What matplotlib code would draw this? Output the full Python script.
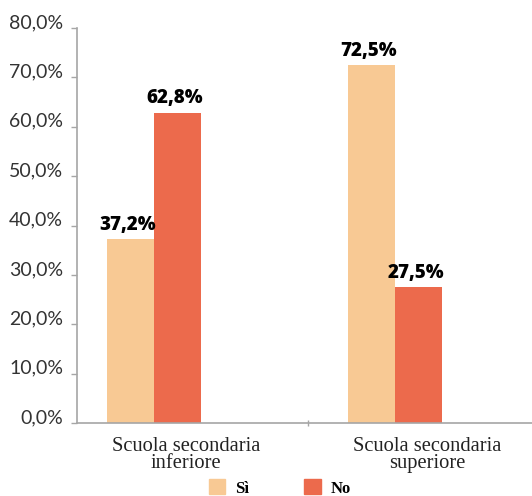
import matplotlib
matplotlib.use("Agg")
import matplotlib.pyplot as plt
import numpy as np
from matplotlib.patches import Patch

categories = ["Scuola secondaria\ninferiore", "Scuola secondaria\nsuperiore"]
series_names = ["Sì", "No"]
si_values = [37.2, 72.5]
no_values = [62.8, 27.5]
yticks = [0, 10, 20, 30, 40, 50, 60, 70, 80]
ytick_labels = ["0,0%", "10,0%", "20,0%", "30,0%", "40,0%", "50,0%", "60,0%", "70,0%", "80,0%"]

c_si = "#F8C994"
c_no = "#EC6A4C"
axis_col = "#A6A6A6"

fig = plt.figure(figsize=(5.32, 4.96), dpi=100)
ax = fig.add_axes([77/532, 73/496, 455/532, 395/496])

x = np.arange(len(categories))
w = 0.195
b1 = ax.bar(x - w/2, si_values, w, color=c_si, label=series_names[0])
b2 = ax.bar(x + w/2, no_values, w, color=c_no, label=series_names[1])

for bars, vals in ((b1, si_values), (b2, no_values)):
    for r, v in zip(bars, vals):
        ax.text(r.get_x() + r.get_width()/2 - 0.012, v + 0.9, f"{v:.1f}%".replace(".", ","),
                ha="center", va="bottom", fontsize=13.5, fontweight="heavy",
                family=["Open Sans", "DejaVu Sans"], color="black")

ax.set_xlim(-0.32, -0.32 + 455/241)
ax.set_ylim(0, 80)
ax.set_yticks(yticks)
ax.set_yticklabels(ytick_labels, family=["Lato", "DejaVu Sans"], fontsize=14, color="#333333")
for lab in ax.get_yticklabels():
    lab.set_va("baseline")
ax.tick_params(axis="y", length=4, width=1, color=axis_col, pad=6)

ax.set_xticks([0.64])
ax.set_xticklabels([])
ax.tick_params(axis="x", length=5, width=1, color=axis_col, direction="inout")
for i, c in enumerate(categories):
    ax.text(i + 0.133, -2.8, c, ha="center", va="top", fontsize=14.8,
            family=["Liberation Serif", "DejaVu Serif"], color="#222222", linespacing=0.9)

for s in ("top", "right"):
    ax.spines[s].set_visible(False)
for s in ("left", "bottom"):
    ax.spines[s].set_color(axis_col)
    ax.spines[s].set_linewidth(1.2)

handles = [Patch(color=c_si), Patch(color=c_no)]
leg = fig.legend(handles, series_names, loc="center", bbox_to_anchor=(280/532, 1 - 488/496),
                 ncol=2, frameon=False, handlelength=1.0, handleheight=1.0, columnspacing=3.3,
                 handletextpad=0.6,
                 prop={"family": ["Liberation Serif", "DejaVu Serif"], "weight": "bold", "size": 12})

fig.savefig("out.png", dpi=100)
